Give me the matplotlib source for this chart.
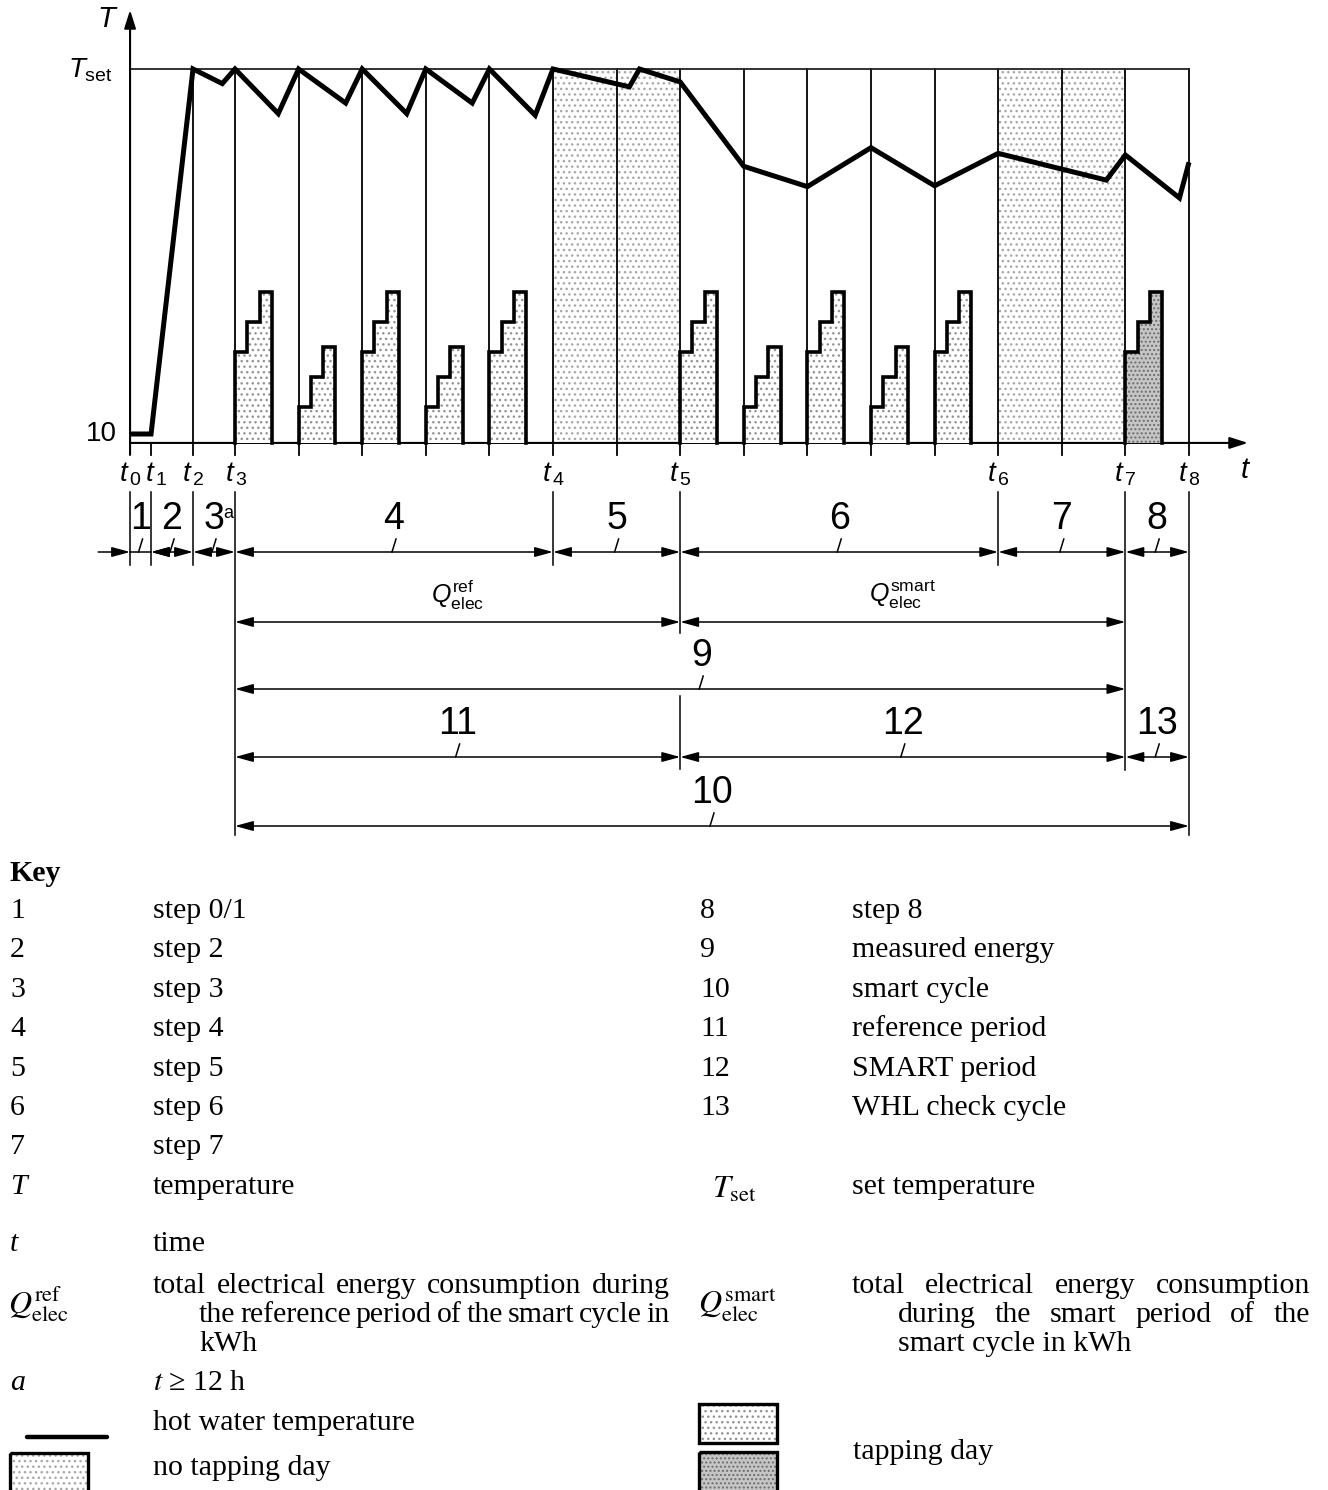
import numpy as np
import matplotlib
matplotlib.use('Agg')
import matplotlib.pyplot as plt
from matplotlib.patches import Rectangle, Polygon

plt.rcParams['font.family'] = ['Liberation Sans', 'DejaVu Sans']
plt.rcParams['mathtext.fontset'] = 'custom'
plt.rcParams['mathtext.rm'] = 'Liberation Sans'
plt.rcParams['mathtext.it'] = 'Liberation Sans:italic'
plt.rcParams['mathtext.bf'] = 'Liberation Sans:bold'
plt.rcParams['hatch.linewidth'] = 1.0

# time in days, t3 (start of the reference period) = 0
t_marks = [-1.65, -1.32, -0.66, 0.0, 5.0, 7.0, 12.0, 14.0, 15.0]   # t0 ... t8
day_lines = list(range(0, 16))

# hot water temperature
temp_day = [-1.65, -1.32, -0.66, -0.20, 0.0, 0.68, 1.0, 1.74, 2.0, 2.70, 3.0,
            3.73, 4.0, 4.72, 5.0, 6.20, 6.36, 7.0, 8.0, 9.0, 10.0, 11.0, 12.0,
            13.70, 14.0, 14.85, 15.0]
temp_val = [10, 10, 55, 53.2, 55, 49.5, 55, 50.8, 55, 49.5, 55,
            50.8, 55, 49.3, 55, 52.8, 55, 53.4, 43.0, 40.5, 45.3, 40.6, 44.6,
            41.3, 44.4, 39.1, 43.5]
T_set = 55
T_start = 10
T_base = 8.9          # level of the time axis

# tapping profiles (stair levels on the same scale)
tap_day = [0, 1, 2, 3, 4, 7, 8, 9, 10, 11]
tap_kind = ['L', 'S', 'L', 'S', 'L', 'L', 'S', 'L', 'S', 'L']
check_day = 14
stair = {'L': [20.1, 23.8, 27.5], 'S': [13.3, 17.0, 20.7]}
stair_w = 0.193
no_tap = [(5, 7), (12, 14)]

# dimension chain: (from mark, to mark, label, row)
dims = [(0, 1, '1', 'A'), (1, 2, '2', 'A'), (2, 3, '3', 'A'), (3, 4, '4', 'A'),
        (4, 5, '5', 'A'), (5, 6, '6', 'A'), (6, 7, '7', 'A'), (7, 8, '8', 'A'),
        (3, 5, r'$Q^{\mathrm{ref}}_{\mathrm{elec}}$', 'Q'),
        (5, 7, r'$Q^{\mathrm{smart}}_{\mathrm{elec}}$', 'Q'),
        (3, 7, '9', 'M'),
        (3, 5, '11', 'P'), (5, 7, '12', 'P'), (7, 8, '13', 'P'),
        (3, 8, '10', 'C')]

key_left = [('1', 'step 0/1'), ('2', 'step 2'), ('3', 'step 3'), ('4', 'step 4'),
            ('5', 'step 5'), ('6', 'step 6'), ('7', 'step 7')]
key_right = [('8', 'step 8'), ('9', 'measured energy'), ('10', 'smart cycle'),
             ('11', 'reference period'), ('12', 'SMART period'), ('13', 'WHL check cycle')]

# ---- layout ----
W, H = 1328, 1490
PX_DAY = 63.6
X_T3 = 235
PX_DEG = 365 / 45
Y_10 = 434
TOP_H = 500
xlim = (-X_T3 / PX_DAY, (W - X_T3) / PX_DAY)
row_y = {'A': 552, 'Q': 622, 'M': 689, 'P': 757, 'C': 826}

LIGHT_DOTS = '#a8a8a8'
TAP_DOTS = '#949494'
CHECK_FACE = '#c6c6c6'
CHECK_DOTS = '#6e6e6e'

fig = plt.figure(figsize=(W / 100, H / 100), dpi=100)
ax_T = fig.add_axes([0, 1 - TOP_H / H, 1, TOP_H / H])
ax_T.set_xlim(xlim)
ax_T.set_ylim(T_start - (TOP_H - Y_10) / PX_DEG, T_start + Y_10 / PX_DEG)
ax_D = fig.add_axes([0, 0, 1, 1])
ax_D.set_xlim(xlim)
ax_D.set_ylim(H, 0)
ax_K = fig.add_axes([0, 0, 1, 1])
ax_K.set_xlim(0, W)
ax_K.set_ylim(H, 0)
for a in (ax_T, ax_D, ax_K):
    a.axis('off')
    a.patch.set_alpha(0)

tick = 12 / PX_DEG
t0, t8 = t_marks[0], t_marks[-1]

# no tapping days
for a, b in no_tap:
    ax_T.add_patch(Rectangle((a, T_base), b - a, T_set - T_base, facecolor='white',
                             edgecolor=LIGHT_DOTS, hatch='...', lw=0, zorder=1))

# day lines and ticks
for d in [t_marks[2]] + day_lines:
    ax_T.plot([d, d], [T_base - tick, T_set], color='black', lw=1.3, zorder=2)
ax_T.plot([t_marks[1]] * 2, [T_base - tick, T_base], color='black', lw=1.3, zorder=2)
ax_T.plot([t0, t8], [T_set, T_set], color='#222222', lw=1.3, zorder=2)

# axes with arrows
ax_T.annotate('', xy=(t0, T_start + (Y_10 - 10) / PX_DEG), xytext=(t0, T_base - tick),
              arrowprops=dict(arrowstyle='-|>,head_length=1.1,head_width=0.35',
                              color='black', lw=1.5, shrinkA=0, shrinkB=0))
ax_T.annotate('', xy=((1248 - X_T3) / PX_DAY, T_base), xytext=(t0, T_base),
              arrowprops=dict(arrowstyle='-|>,head_length=1.1,head_width=0.35',
                              color='black', lw=1.5, shrinkA=0, shrinkB=0))


def stair_path(d, levels):
    xs, ys = [d], [T_base]
    for i, lv in enumerate(levels):
        xs += [d + i * stair_w, d + (i + 1) * stair_w]
        ys += [lv, lv]
    xs.append(d + len(levels) * stair_w)
    ys.append(T_base)
    return xs, ys


for d, k in zip(tap_day, tap_kind):
    xs, ys = stair_path(d, stair[k])
    ax_T.add_patch(Polygon(list(zip(xs, ys)), closed=True, facecolor='white',
                           edgecolor=TAP_DOTS, hatch='...', lw=0, zorder=3))
    ax_T.plot(xs, ys, color='black', lw=2.6, zorder=4, solid_joinstyle='miter')

xs, ys = stair_path(check_day, stair['L'])
ax_T.add_patch(Polygon(list(zip(xs, ys)), closed=True, facecolor=CHECK_FACE,
                       edgecolor=CHECK_DOTS, hatch='....', lw=0, zorder=3))
ax_T.plot(xs, ys, color='black', lw=2.6, zorder=4, solid_joinstyle='miter')

# hot water temperature
ax_T.plot(temp_day, temp_val, color='black', lw=3.6, zorder=5,
          solid_joinstyle='miter', solid_capstyle='butt')

# axis labels
ax_K.text(106, 19, 'T', style='italic', size=21, ha='center', va='center')
ax_K.text(113, 70, r'$T_{\mathrm{set}}$', size=20, ha='right', va='center')
ax_K.text(117, 434, '10', size=20, ha='right', va='center')
t_lab_shift = [-11, -6, -11, -10, -11, -11, -11, -11, -11]   # px, start of the "t" glyph
for i, d in enumerate(t_marks):
    ax_D.text(d + t_lab_shift[i] / PX_DAY, 474, r'$t_{\,\mathrm{%d}}$' % i, size=20,
              ha='left', va='center')
ax_D.text((1245 - X_T3) / PX_DAY, 470, 't', style='italic', size=21, ha='center', va='center')

# extension lines under the time axis: (mark, top, bottom)
ext = [(0, 492, 565), (1, 492, 565), (2, 492, 565), (3, 492, 835), (4, 492, 565),
       (5, 492, 633), (5, 696, 769), (6, 492, 565), (7, 492, 770), (8, 492, 835)]
for m, y0, y1 in ext:
    ax_D.plot([t_marks[m]] * 2, [y0, y1], color='black', lw=1.1)


def arrow(x0, x1, y, style):
    ax_D.annotate('', xy=(x1, y), xytext=(x0, y),
                  arrowprops=dict(arrowstyle=style + ',head_length=1.1,head_width=0.3',
                                  color='black', lw=1.1, shrinkA=0, shrinkB=0))


lead_dx = 2 / PX_DAY
for m0, m1, lab, row in dims:
    a, b = t_marks[m0], t_marks[m1]
    y = row_y[row]
    if b - a < 0.5:
        ax_D.plot([a, b], [y, y], color='black', lw=1.1)
        arrow(a - 0.5, a, y, '-|>')
        arrow(b + 0.3, b, y, '-|>')
    else:
        arrow(a, b, y, '<|-|>')
    mid = (a + b) / 2
    if lab == '9':
        mid += 0.33
    if row == 'Q':
        ax_D.text(mid, y - 27, lab, size=18, ha='center', va='center')
        continue
    ax_D.plot([mid - lead_dx, mid + lead_dx], [y, y - 13], color='black', lw=1.1)
    ax_D.text(mid, y - 33, lab, size=27, ha='center', va='center')
ax_D.text((228 - X_T3) / PX_DAY, 513, 'a', size=13, ha='center', va='center')

# ---- key ----
serif = ['Liberation Serif', 'DejaVu Serif']
KS = 21.5
ax_K.text(10, 881, 'Key', family=serif, weight='bold', size=KS)
for i, (n, s) in enumerate(key_left):
    y = 918 + i * 39.4
    ax_K.text(10, y, n, family=serif, size=KS)
    ax_K.text(153, y, s, family=serif, size=KS)
for i, (n, s) in enumerate(key_right):
    y = 918 + i * 39.4
    ax_K.text(700, y, n, family=serif, size=KS)
    ax_K.text(852, y, s, family=serif, size=KS)

ax_K.text(10, 1194, 'T', family=serif, style='italic', size=KS)
ax_K.text(153, 1194, 'temperature', family=serif, size=KS)
ax_K.text(712, 1198, r'$T_{\mathrm{set}}$', math_fontfamily='stix', size=23)
ax_K.text(852, 1194, 'set temperature', family=serif, size=KS)
ax_K.text(10, 1251, 't', family=serif, style='italic', size=KS)
ax_K.text(153, 1251, 'time', family=serif, size=KS)
ax_K.text(8, 1314, r'$Q^{\mathrm{ref}}_{\mathrm{elec}}$', math_fontfamily='stix', size=23)
ax_K.text(698, 1314, r'$Q^{\mathrm{smart}}_{\mathrm{elec}}$', math_fontfamily='stix', size=23)

renderer = fig.canvas.get_renderer()


def justify(line, x0, x1, y):
    words = line.split()
    items = [ax_K.text(x0, y, w, family=serif, size=KS) for w in words]
    widths = [t.get_window_extent(renderer).width for t in items]
    gap = (x1 - x0 - sum(widths)) / (len(words) - 1)
    x = x0
    for t, w in zip(items, widths):
        t.set_x(x)
        x += w + gap


justify('total electrical energy consumption during', 153, 670, 1293)
justify('the reference period of the smart cycle in', 199, 670, 1322)
ax_K.text(199, 1351, 'kWh', family=serif, size=KS)
justify('total electrical energy consumption', 852, 1310, 1293)
justify('during the smart period of the', 898, 1310, 1322)
ax_K.text(898, 1351, 'smart cycle in kWh', family=serif, size=KS)

ax_K.text(10, 1390, 'a', family=serif, style='italic', size=KS)
ax_K.text(153, 1390, r'$t$ ≥ 12 h', family=serif, math_fontfamily='stix', size=KS)
ax_K.plot([27, 107], [1437, 1437], color='black', lw=3.2, solid_capstyle='round')
ax_K.text(153, 1430, 'hot water temperature', family=serif, size=KS)
ax_K.add_patch(Rectangle((10, 1453), 78, 45, facecolor='white', edgecolor=LIGHT_DOTS,
                         hatch='...', lw=0))
ax_K.add_patch(Rectangle((10, 1453), 78, 45, fill=False, edgecolor='black', lw=2.4))
ax_K.text(153, 1475, 'no tapping day', family=serif, size=KS)

ax_K.add_patch(Rectangle((699, 1404), 78, 39, facecolor='white', edgecolor=TAP_DOTS,
                         hatch='...', lw=0))
ax_K.add_patch(Rectangle((699, 1404), 78, 39, fill=False, edgecolor='black', lw=2.4))
ax_K.add_patch(Rectangle((699, 1452), 78, 45, facecolor=CHECK_FACE, edgecolor=CHECK_DOTS,
                         hatch='....', lw=0))
ax_K.add_patch(Rectangle((699, 1452), 78, 45, fill=False, edgecolor='black', lw=2.4))
ax_K.text(853, 1459, 'tapping day', family=serif, size=KS)

fig.savefig('out.png', dpi=100)
